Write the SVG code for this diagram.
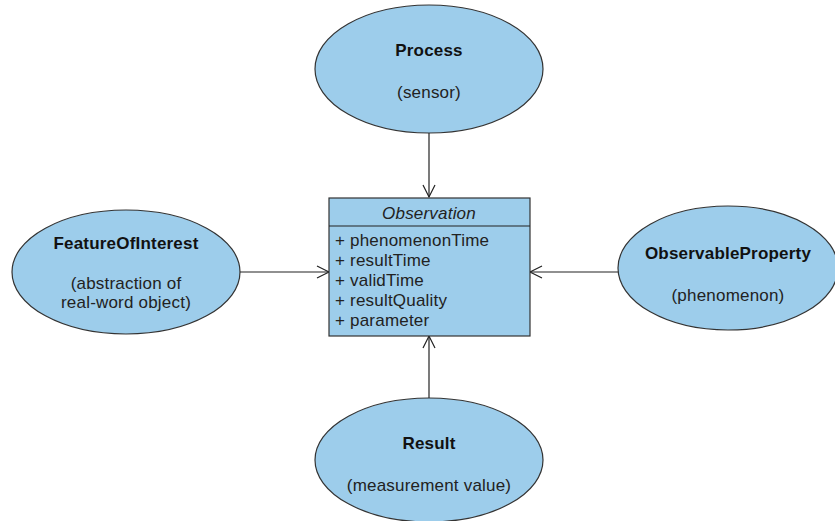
<svg xmlns="http://www.w3.org/2000/svg" width="835" height="521" viewBox="0 0 835 521">
<defs>
<style>
.node{fill:#9dcdeb;stroke:#333;stroke-width:1.2}
.t{font-family:"Liberation Sans",Arial,sans-serif;font-size:17px;letter-spacing:0.2px;fill:#222;text-anchor:middle}
.b{font-weight:bold;fill:#111}
.a{font-family:"Liberation Sans",Arial,sans-serif;font-size:17px;letter-spacing:0.2px;fill:#222}
.c{stroke:#222;stroke-width:1.2;fill:none}
</style>
<marker id="open" markerWidth="16" markerHeight="16" refX="13" refY="7" orient="auto" markerUnits="userSpaceOnUse">
<path d="M1,1 L13,7 L1,13" fill="none" stroke="#222" stroke-width="1.2"/>
</marker>
</defs>
<rect width="835" height="521" fill="#fff"/>
<g id="connectors">
<line class="c" x1="429" y1="133" x2="429" y2="197" marker-end="url(#open)"/>
<line class="c" x1="429" y1="399" x2="429" y2="336" marker-end="url(#open)"/>
<line class="c" x1="240" y1="272" x2="329" y2="272" marker-end="url(#open)"/>
<line class="c" x1="619" y1="272" x2="530" y2="272" marker-end="url(#open)"/>
</g>
<g id="process">
<ellipse class="node" cx="429" cy="69" rx="114" ry="64"/>
<text class="t b" x="429" y="56">Process</text>
<text class="t" x="429" y="98">(sensor)</text>
</g>
<g id="feature">
<ellipse class="node" cx="126" cy="272" rx="114" ry="62"/>
<text class="t b" x="126" y="249">FeatureOfInterest</text>
<text class="t" x="126" y="289">(abstraction of</text>
<text class="t" x="126" y="308">real-word object)</text>
</g>
<g id="observable">
<ellipse class="node" cx="728" cy="268" rx="110" ry="62"/>
<text class="t b" x="728" y="259">ObservableProperty</text>
<text class="t" x="728" y="301">(phenomenon)</text>
</g>
<g id="result">
<ellipse class="node" cx="429" cy="460" rx="114" ry="62"/>
<text class="t b" x="429" y="449">Result</text>
<text class="t" x="429" y="491">(measurement value)</text>
</g>
<g id="observation">
<rect class="node" x="329" y="198" width="201" height="138"/>
<line class="c" x1="329" y1="226" x2="530" y2="226"/>
<text class="t" x="429" y="219" font-style="italic">Observation</text>
<text class="a" x="335" y="246">+ phenomenonTime</text>
<text class="a" x="335" y="266">+ resultTime</text>
<text class="a" x="335" y="286">+ validTime</text>
<text class="a" x="335" y="306">+ resultQuality</text>
<text class="a" x="335" y="326">+ parameter</text>
</g>
</svg>
